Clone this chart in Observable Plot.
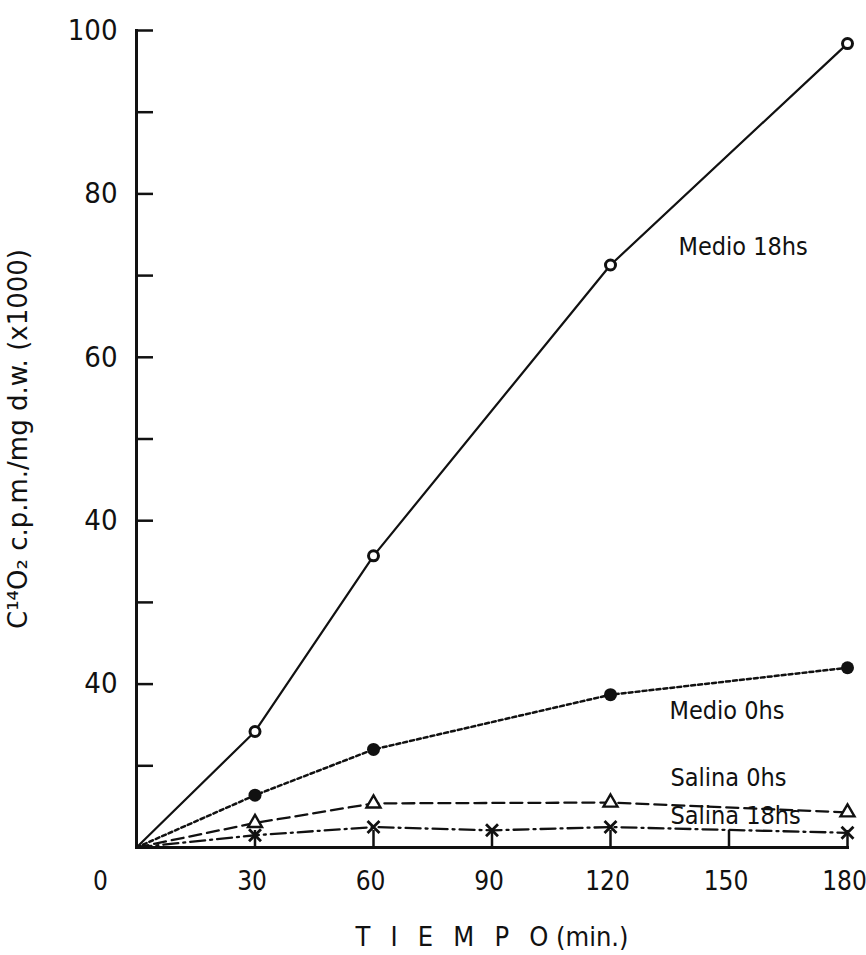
<!DOCTYPE html>
<html><head><meta charset="utf-8">
<script src="https://cdn.jsdelivr.net/npm/d3@7"></script>
<script src="https://cdn.jsdelivr.net/npm/@observablehq/plot@0.6"></script>
<style>
body{margin:0;background:#fff;}
#chart svg{display:block;}
</style>
</head><body><div id="chart"></div>
<script>
// ---- data ----
const seriesNames = ["Medio 18hs", "Medio 0hs", "Salina 0hs", "Salina 18hs"];
const medio18Times = [0, 30, 60, 120, 180];
const medio18Values = [0, 14.2, 35.7, 71.3, 98.4];
const medio0Times = [0, 30, 60, 120, 180];
const medio0Values = [0, 6.4, 12.0, 18.7, 22.0];
const salina0Times = [0, 30, 60, 120, 180];
const salina0Values = [0, 3.0, 5.4, 5.5, 4.3];
const salina18Times = [0, 30, 60, 90, 120, 180];
const salina18Values = [0, 1.5, 2.5, 2.1, 2.5, 1.8];

const xTickValues = [30, 60, 90, 120, 150, 180];
const xTickLabels = ["30", "60", "90", "120", "150", "180"];
const yTickValues = [10, 20, 30, 40, 50, 60, 70, 80, 90, 100];
const yLabelValues = [20, 40, 60, 80, 100];
const yLabelTexts = ["40", "40", "60", "80", "100"]; // as printed in the original
const originLabel = "0";
const xTitle = "T\u2002\u2004I\u2002\u2004E\u2002\u2004M\u2002\u2004P\u2002\u2004O (min.)";
const yTitle = "C\u00B9\u2074O\u2082 c.p.m./mg d.w. (x1000)";

// ---- build table ----
const toRows = (name, ts, vs) => ts.map((t, i) => ({series: name, t, v: vs[i]}));
const rows = [
  ...toRows(seriesNames[0], medio18Times, medio18Values),
  ...toRows(seriesNames[1], medio0Times, medio0Values),
  ...toRows(seriesNames[2], salina0Times, salina0Values),
  ...toRows(seriesNames[3], salina18Times, salina18Values)
];
const of = name => rows.filter(d => d.series === name);
const markers = name => of(name).filter(d => d.t > 0);
const at120 = name => of(name).filter(d => d.t === 120);

const yLabelMap = new Map(yLabelValues.map((v, i) => [v, yLabelTexts[i]]));
const xLabelMap = new Map(xTickValues.map((v, i) => [v, xTickLabels[i]]));

const FONT = "'DejaVu Sans Condensed', 'DejaVu Sans', sans-serif";
const TITLE_FONT = "'DejaVu Sans', sans-serif";
const INK = "#111";

const chart = Plot.plot({
  width: 866,
  height: 955,
  marginLeft: 136,
  marginRight: 19,
  marginTop: 30,
  marginBottom: 108,
  style: {fontFamily: FONT, color: INK, background: "#fff", overflow: "visible"},
  x: {domain: [0, 180]},
  y: {domain: [0, 100]},
  marks: [
    // axis lines
    Plot.frame({anchor: "left", stroke: INK, strokeWidth: 3}),
    Plot.frame({anchor: "bottom", stroke: INK, strokeWidth: 3}),
    // inward ticks
    Plot.axisY({ticks: yTickValues, tickSize: -17, tickFormat: () => "", label: null, strokeWidth: 2.5, stroke: INK}),
    Plot.axisX({ticks: xTickValues, tickSize: -17, tickFormat: () => "", label: null, strokeWidth: 2.5, stroke: INK}),
    // tick labels
    Plot.axisY({ticks: yLabelValues, tickSize: 0, tickPadding: 19, tickFormat: d => yLabelMap.get(d), label: null, fontSize: 29, fill: INK}),
    Plot.axisX({ticks: xTickValues, tickSize: 0, tickPadding: 24, dx: -3, tickFormat: d => xLabelMap.get(d), label: null, fontSize: 26, fill: INK}),
    Plot.axisX({ticks: [0], tickSize: 0, tickPadding: 24, dx: -36, tickFormat: () => originLabel, label: null, fontSize: 26, fill: INK}),
    // axis titles
    Plot.axisY({ticks: [], tickSize: 0, label: yTitle, labelAnchor: "center", labelArrow: "none", labelOffset: 128, fontSize: 26, fontFamily: TITLE_FONT, fill: INK}),
    Plot.axisX({ticks: [], tickSize: 0, label: xTitle, labelAnchor: "center", labelArrow: "none", labelOffset: 98, fontSize: 27, fill: INK}),
    // series lines
    Plot.line(of(seriesNames[0]), {x: "t", y: "v", stroke: INK, strokeWidth: 2.2}),
    Plot.line(of(seriesNames[1]), {x: "t", y: "v", stroke: INK, strokeWidth: 2.5, strokeDasharray: "4,3"}),
    Plot.line(of(seriesNames[2]), {x: "t", y: "v", stroke: INK, strokeWidth: 2.3, strokeDasharray: "12,6"}),
    Plot.line(of(seriesNames[3]), {x: "t", y: "v", stroke: INK, strokeWidth: 2.3, strokeDasharray: "15,5,2,5"}),
    // markers
    Plot.dot(markers(seriesNames[0]), {x: "t", y: "v", r: 5, stroke: INK, strokeWidth: 3, fill: "#fff"}),
    Plot.dot(markers(seriesNames[1]), {x: "t", y: "v", r: 6.5, fill: INK, stroke: "none"}),
    Plot.dot(markers(seriesNames[2]), {x: "t", y: "v", r: 5.2, symbol: "triangle", stroke: INK, strokeWidth: 2.4, fill: "#fff"}),
    Plot.dot(markers(seriesNames[3]), {x: "t", y: "v", r: 5.5, symbol: "times", stroke: INK, strokeWidth: 2.8}),
    // series labels
    Plot.text(at120(seriesNames[0]), {x: "t", y: "v", text: "series", dx: 68, dy: -18, textAnchor: "start", fontSize: 25, fill: INK}),
    Plot.text(at120(seriesNames[1]), {x: "t", y: "v", text: "series", dx: 59, dy: 16, textAnchor: "start", fontSize: 25, fill: INK}),
    Plot.text(at120(seriesNames[2]), {x: "t", y: "v", text: "series", dx: 60, dy: -25, textAnchor: "start", fontSize: 25, fill: INK}),
    Plot.text(at120(seriesNames[3]), {x: "t", y: "v", text: "series", dx: 60, dy: -11, textAnchor: "start", fontSize: 25, fill: INK})
  ]
});
document.getElementById("chart").appendChild(chart);
</script>
</body></html>
